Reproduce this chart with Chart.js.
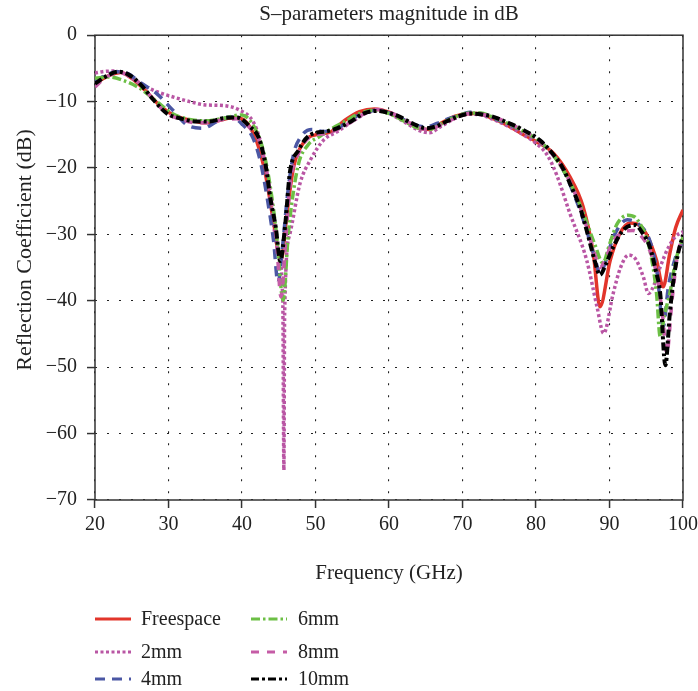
<!DOCTYPE html>
<html>
<head>
<meta charset="utf-8">
<script src="https://cdn.jsdelivr.net/npm/chart.js@4/dist/chart.umd.min.js"></script>
<style>
  html, body { margin: 0; padding: 0; background: #fff; }
  #wrap { position: relative; width: 698px; height: 691px; }
  #c { position: absolute; left: 0; top: 0; }
  .leg { position: absolute; font-family: "Liberation Serif", "Times New Roman", serif; font-size: 20px; color: #222; line-height: 20px; }
  .leg svg { position: absolute; }
</style>
</head>
<body>
<div id="wrap">
  <canvas id="c" width="698" height="691"></canvas>
  <div id="legend"></div>
</div>
<script>
// ---- data (frequency in GHz, reflection coefficient in dB) ----
const SERIES_NAMES = ["Freespace", "2mm", "4mm", "6mm", "8mm", "10mm"];

const FREESPACE_X = [20,22,23.5,25,27,29,31,33,35,37,39,40.5,42,43.2,44.2,45.3,46.1,47,48.5,50,52,54,56,58,60,62,64,65.5,67,69,71,72,74,76,78,80,82.4,84.6,86.4,87.8,88.7,90.1,91.4,92.8,94,95,96.4,97.3,98.2,99,100];
const FREESPACE_Y = [-7.3,-6,-5.6,-6.5,-8.5,-10.8,-12.2,-12.8,-13.2,-12.8,-12.4,-13,-16,-21,-27.5,-34,-27,-20,-16,-15,-14.6,-12.8,-11.5,-11.1,-11.6,-12.8,-14,-14.2,-13.3,-12.2,-11.8,-11.8,-12.5,-13.5,-14.8,-16,-17.8,-21.3,-25.8,-32.9,-40.9,-33.9,-29.9,-28.3,-28.6,-29.9,-33.9,-37.9,-32.9,-29,-26.3];

const MM2_X = [20,21,22.5,24,25.5,27,28.4,30,32.9,35,37.5,39.7,41.5,42.5,43.5,44.9,45.55,45.7,45.8,46.5,47.9,49.3,51.1,53,55,57,58.5,60,62,64,65.5,67,69,71,72.5,74,76,78,80,81.5,82.8,84.6,86.9,88.3,89.2,90.5,91.5,92.6,93.6,94.6,95.3,96.1,96.9,98,99,100];
const MM2_Y = [-5.7,-5.5,-5.4,-5.8,-6.8,-7.8,-8.5,-9.1,-10.0,-10.5,-10.6,-11.3,-13,-16,-22,-32.4,-40,-65.5,-42,-30,-22.3,-18.8,-15.8,-14.5,-13,-11.7,-11.4,-11.8,-13,-14.3,-14.7,-13.8,-12.5,-11.9,-12,-12.6,-13.6,-14.8,-16.3,-18,-21,-26.8,-33.9,-40.9,-44.9,-38.9,-35,-33.1,-33.8,-36.4,-38.9,-37.5,-34.9,-32,-30.3,-29.6];

const MM4_X = [20,21.5,23,24.5,26,28.4,30.6,32.5,34.7,36.6,38.5,40.1,41.5,42.5,43.5,44.3,44.9,45.5,46.2,47,48,49.5,51,53,55,56.5,58.3,60,61.5,63,65,66.5,68,69.5,71,72.5,74,76,78,80.5,82,83.7,85,86.5,88,88.7,89.5,90.5,92.4,94,95.5,96.5,97.3,98,99,100];
const MM4_Y = [-7.0,-6.0,-5.5,-5.8,-7.0,-8.8,-11.3,-13.5,-14.0,-13.0,-12.3,-13.5,-15.5,-19,-25,-31,-37.3,-32,-24,-18,-15.3,-14.2,-14.5,-14,-12.5,-11.8,-11.3,-11.7,-12.4,-13.3,-13.8,-13.3,-12.6,-12.1,-11.6,-11.8,-12.4,-13.3,-14.3,-16,-17.6,-20.3,-23.5,-28,-33.5,-35.9,-34,-30.5,-27.8,-28.5,-31,-36,-43.9,-38,-33.4,-31];

const MM6_X = [20,22,23.8,26.1,28.4,30.5,32.5,35,37.5,40,41.5,42.8,43.8,44.7,45.6,46.3,47.6,49,50.5,52,54,56,58,60,62,64,65.5,67,69,71,72.5,74,76,78,80.5,82,83.7,85,86.5,88,89.1,90,91,92.5,93.8,95.5,96.4,96.9,97.5,98.2,99,100];
const MM6_Y = [-6.5,-6.3,-6.8,-8.0,-10.0,-11.8,-12.6,-12.9,-12.5,-12.0,-13.5,-17,-22.5,-30,-39.9,-29.9,-19.8,-16.5,-15.3,-14.2,-13,-11.8,-11.3,-11.8,-12.9,-14,-14.2,-13.4,-12.3,-11.7,-11.7,-12.3,-13.2,-14.3,-16,-17.6,-20.3,-23,-27,-31.5,-34.3,-31.5,-28.5,-27.1,-27.8,-32.4,-38.9,-45.4,-42,-38.9,-34,-30.4];

const MM8_X = [20,21.5,23.2,24.5,26.1,28,29.8,31.5,33.8,35.5,37.4,39.3,41.1,42.3,43.2,44,44.7,45.3,46,46.6,47.7,49.3,51.5,53,55.1,56.5,58.3,60,61.5,63,65.1,66.5,67.8,69.5,71,72.5,74.2,76,77.8,80.5,82,83.7,85,86.5,88,88.7,89.5,90.5,92,93.2,94.5,95.5,96.5,97.2,97.8,98.5,99.2,100];
const MM8_Y = [-7.8,-6.3,-5.7,-6.0,-7.3,-9.8,-11.8,-12.6,-13.2,-13.2,-12.7,-12.6,-14,-15.8,-19.5,-25,-31,-39.4,-30,-22,-17.8,-15.3,-14.8,-14.2,-12.9,-11.9,-11.2,-11.6,-12.3,-13.3,-14.2,-13.8,-13.1,-12.3,-11.8,-11.9,-12.3,-13.1,-14.1,-16,-17.6,-20.2,-23,-27.5,-33,-35,-33.5,-31,-29.6,-29.4,-30.5,-32.5,-36.5,-42,-47.9,-40,-33.5,-30];

const MM10_X = [20,21.5,23.2,24.5,26.1,28,29.8,31.5,33.8,35.5,37.4,39.3,41.1,42.3,43.2,43.9,44.6,45.2,45.9,46.5,47.7,49.3,51.5,53,55.1,56.5,58.3,60,61.5,63,65.1,66.5,67.8,69.5,71,72.5,74.2,76,77.8,80.5,82,83.7,84.6,86,86.9,88,88.7,89.5,90.5,92,93.5,94.5,95.5,96.3,96.9,97.6,98.2,98.7,99.3,100];
const MM10_Y = [-7.3,-6.2,-5.5,-5.9,-7.3,-9.8,-11.8,-12.5,-13.0,-13.0,-12.5,-12.4,-13.8,-15.5,-19.5,-24.8,-29,-34,-28.3,-20.8,-17.3,-15,-14.5,-14,-12.8,-11.8,-11.4,-11.7,-12.3,-13.2,-14.0,-13.7,-13.0,-12.2,-11.8,-11.9,-12.3,-13.1,-14.0,-15.8,-17.5,-20.1,-22.3,-26,-29.4,-34,-36.1,-34.5,-31.9,-29.2,-28.6,-29.8,-31.9,-35.5,-38.9,-49.7,-42,-36.9,-33,-30.1];

const X_TICKS = [20,30,40,50,60,70,80,90,100];
const Y_TICKS = [0,-10,-20,-30,-40,-50,-60,-70];

// ---- styles ----
const STYLES = [
  { color: '#e2352b', dash: [],            width: 3.5 },
  { color: '#b956a4', dash: [3, 2.5],      width: 3.5 },
  { color: '#4b57a4', dash: [10, 7],       width: 3.5 },
  { color: '#6cbf45', dash: [9, 3, 2.5, 3],width: 3.5 },
  { color: '#c55ca6', dash: [8, 8],        width: 3.5 },
  { color: '#000000', dash: [8, 3, 3, 3],  width: 4 }
];
const XS = [FREESPACE_X, MM2_X, MM4_X, MM6_X, MM8_X, MM10_X];
const YS = [FREESPACE_Y, MM2_Y, MM4_Y, MM6_Y, MM8_Y, MM10_Y];

const datasets = SERIES_NAMES.map((name, i) => ({
  label: name,
  data: XS[i].map((x, k) => ({ x: x, y: YS[i][k] })),
  borderColor: STYLES[i].color,
  backgroundColor: STYLES[i].color,
  borderDash: STYLES[i].dash,
  borderWidth: STYLES[i].width,
  borderCapStyle: 'butt',
  pointRadius: 0,
  fill: false,
  cubicInterpolationMode: 'monotone',
  order: 10 - i
}));

const FONT = '"Liberation Serif", "Times New Roman", serif';
const Y_TITLE = 'Reflection Coefficient (dB)';

const framePlugin = {
  id: 'frame',
  beforeDatasetsDraw(chart) {
    const { ctx, chartArea: a } = chart;
    ctx.save();
    ctx.setLineDash([]);
    ctx.strokeStyle = '#333';
    ctx.lineWidth = 1.5;
    ctx.strokeRect(a.left, a.top, a.right - a.left, a.bottom - a.top);
    ctx.restore();
  },
  afterDraw(chart) {
    const { ctx } = chart;
    ctx.save();
    ctx.translate(25, 250);
    ctx.rotate(-Math.PI / 2);
    ctx.font = '22px ' + FONT;
    ctx.fillStyle = '#222';
    ctx.textAlign = 'center';
    ctx.textBaseline = 'middle';
    ctx.fillText(Y_TITLE, 0, 0);
    ctx.restore();
  }
};

new Chart(document.getElementById('c'), {
  type: 'line',
  data: { datasets: datasets },
  plugins: [framePlugin],
  options: {
    responsive: false,
    animation: false,
    layout: { padding: { left: 0, right: 15, top: 0, bottom: 96 } },
    plugins: {
      legend: { display: false },
      tooltip: { enabled: false },
      title: {
        display: true,
        text: 'S\u2013parameters magnitude in dB',
        fullSize: false,
        color: '#222',
        font: { family: FONT, size: 21, weight: 'normal' },
        padding: { top: 2, bottom: 8 }
      }
    },
    scales: {
      x: {
        type: 'linear',
        min: 20, max: 100,
        afterFit(s) { s.height = 95; s.paddingLeft = 0; s.paddingRight = 0; },
        afterBuildTicks(s) { s.ticks = X_TICKS.map(v => ({ value: v })); },
        ticks: { color: '#222', font: { family: FONT, size: 20 }, padding: 5, maxRotation: 0 },
        grid: { color: '#222', lineWidth: 1.1, tickLength: 8, tickColor: '#333', tickWidth: 1.5, tickBorderDash: [] },
        border: { display: false, dash: [2, 10] },
        title: { display: true, text: 'Frequency (GHz)', color: '#222', font: { family: FONT, size: 21 }, padding: { top: 0, bottom: 9 } }
      },
      y: {
        type: 'linear',
        min: -70, max: 0,
        afterFit(s) { s.width = 95; },
        afterBuildTicks(s) { s.ticks = Y_TICKS.map(v => ({ value: v })); },
        ticks: { color: '#222', font: { family: FONT, size: 20 }, padding: 10,
          callback: v => v === 0 ? '0' : '\u2212' + Math.abs(v) },
        grid: { color: '#222', lineWidth: 1.1, tickLength: 8, tickColor: '#333', tickWidth: 1.5, tickBorderDash: [] },
        border: { display: false, dash: [2, 10] },
        title: { display: false }
      }
    }
  }
});

// ---- legend (two columns, column-major like the reference) ----
const LEG_COLS = [{ lineX: 95, textX: 141 }, { lineX: 251, textX: 298 }];
const LEG_ROWS = [619, 652, 679];
const legend = document.getElementById('legend');
SERIES_NAMES.forEach((name, i) => {
  const col = LEG_COLS[Math.floor(i / 3)];
  const rowY = LEG_ROWS[i % 3];
  const st = STYLES[i];
  const svg = document.createElementNS('http://www.w3.org/2000/svg', 'svg');
  svg.setAttribute('width', '37'); svg.setAttribute('height', '8');
  svg.style.position = 'absolute';
  svg.style.left = col.lineX + 'px';
  svg.style.top = (rowY - 4) + 'px';
  const ln = document.createElementNS('http://www.w3.org/2000/svg', 'line');
  ln.setAttribute('x1', '0'); ln.setAttribute('x2', '36');
  ln.setAttribute('y1', '4'); ln.setAttribute('y2', '4');
  ln.setAttribute('stroke', st.color);
  ln.setAttribute('stroke-width', '3');
  if (st.dash.length) ln.setAttribute('stroke-dasharray', st.dash.join(' '));
  svg.appendChild(ln);
  legend.appendChild(svg);
  const t = document.createElement('div');
  t.className = 'leg';
  t.textContent = name;
  t.style.left = col.textX + 'px';
  t.style.top = (rowY - 11) + 'px';
  legend.appendChild(t);
});
</script>
</body>
</html>
